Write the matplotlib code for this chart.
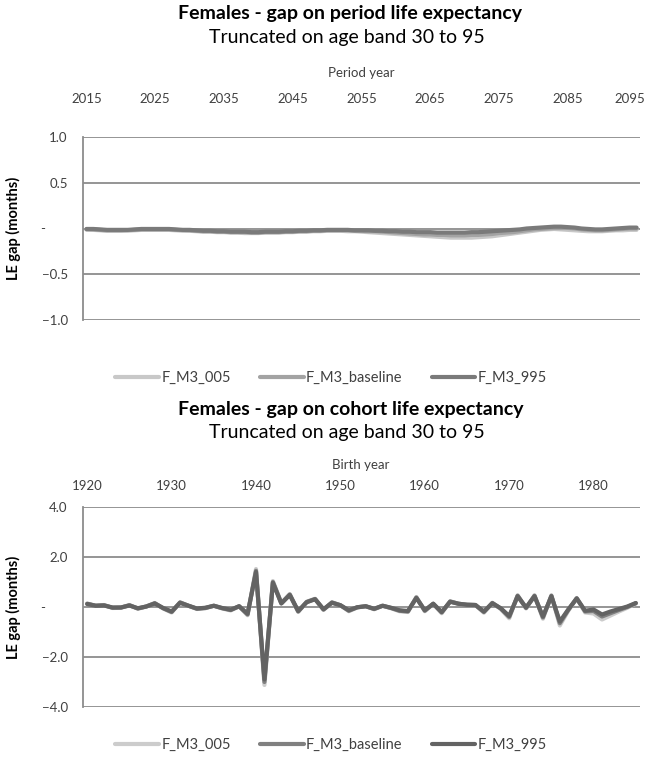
import numpy as np
import matplotlib.pyplot as plt
from matplotlib.transforms import ScaledTranslation

plt.rcParams['font.family'] = ['Lato', 'DejaVu Sans']

# period life expectancy gap (months), 2015..2095
period_years = list(range(2015, 2096))
period_005 = [-0.01, -0.015, -0.02, -0.025, -0.025, -0.025, -0.02, -0.02, -0.015, -0.015,
              -0.015, -0.015, -0.015, -0.02, -0.02, -0.025, -0.03, -0.035, -0.035, -0.04,
              -0.04, -0.045, -0.045, -0.05, -0.05, -0.05, -0.045, -0.045, -0.045, -0.04,
              -0.04, -0.035, -0.035, -0.03, -0.03, -0.025, -0.025, -0.025, -0.03, -0.03,
              -0.035, -0.04, -0.045, -0.05, -0.055, -0.06, -0.065, -0.07, -0.075, -0.08,
              -0.085, -0.09, -0.095, -0.1, -0.1, -0.1, -0.1, -0.095, -0.09, -0.085,
              -0.075, -0.065, -0.055, -0.045, -0.035, -0.025, -0.015, -0.01, -0.005, -0.01,
              -0.015, -0.02, -0.025, -0.03, -0.03, -0.03, -0.025, -0.02, -0.02, -0.015,
              -0.015]
period_baseline = [-0.01, -0.01, -0.015, -0.02, -0.02, -0.02, -0.02, -0.015, -0.01, -0.01,
                   -0.01, -0.01, -0.01, -0.015, -0.02, -0.02, -0.025, -0.03, -0.03, -0.035,
                   -0.035, -0.04, -0.04, -0.04, -0.045, -0.045, -0.04, -0.04, -0.04, -0.035,
                   -0.035, -0.03, -0.03, -0.025, -0.025, -0.02, -0.02, -0.02, -0.02, -0.025,
                   -0.025, -0.03, -0.03, -0.035, -0.04, -0.045, -0.05, -0.055, -0.06, -0.065,
                   -0.065, -0.07, -0.07, -0.075, -0.075, -0.075, -0.07, -0.07, -0.065, -0.06,
                   -0.05, -0.045, -0.04, -0.03, -0.02, -0.01, -0.005, 0.0, 0.005, 0.005,
                   0.005, 0.0, -0.01, -0.015, -0.02, -0.02, -0.015, -0.01, -0.005, 0.0,
                   0.0]
period_995 = [-0.005, -0.005, -0.01, -0.015, -0.015, -0.015, -0.015, -0.01, -0.005, -0.005,
              -0.005, -0.005, -0.005, -0.01, -0.015, -0.015, -0.02, -0.025, -0.025, -0.03,
              -0.03, -0.035, -0.035, -0.035, -0.04, -0.04, -0.035, -0.035, -0.035, -0.03,
              -0.03, -0.025, -0.025, -0.02, -0.02, -0.015, -0.015, -0.015, -0.015, -0.02,
              -0.02, -0.02, -0.025, -0.025, -0.03, -0.03, -0.035, -0.035, -0.04, -0.04,
              -0.04, -0.045, -0.045, -0.045, -0.045, -0.045, -0.04, -0.04, -0.035, -0.03,
              -0.025, -0.02, -0.015, -0.01, 0.0, 0.005, 0.01, 0.015, 0.02, 0.02,
              0.015, 0.01, 0.0, -0.005, -0.01, -0.01, -0.005, 0.0, 0.005, 0.01,
              0.01]

# cohort life expectancy gap (months), birth years 1920..1985
cohort_years = list(range(1920, 1986))
cohort_005 = [0.14, 0.05, 0.08, -0.04, -0.03, 0.08, -0.07, 0.02, 0.16, -0.06,
              -0.22, 0.19, 0.05, -0.08, -0.05, 0.05, -0.06, -0.14, 0.03, -0.33,
              1.52, -3.12, 1.04, 0.16, 0.52, -0.2, 0.21, 0.33, -0.12, 0.19,
              0.07, -0.17, -0.02, 0.03, -0.09, 0.05, -0.05, -0.17, -0.2, 0.4,
              -0.17, 0.13, -0.25, 0.23, 0.13, 0.09, 0.08, -0.23, 0.17, -0.08,
              -0.45, 0.47, -0.06, 0.47, -0.47, 0.47, -0.74, -0.15, 0.36, -0.22,
              -0.26, -0.5, -0.34, -0.18, -0.03, 0.14]
cohort_baseline = [0.13, 0.05, 0.07, -0.03, -0.02, 0.07, -0.06, 0.02, 0.15, -0.05,
                   -0.2, 0.18, 0.05, -0.07, -0.04, 0.05, -0.05, -0.12, 0.03, -0.3,
                   1.45, -3.0, 1.0, 0.15, 0.5, -0.18, 0.2, 0.32, -0.1, 0.18,
                   0.07, -0.15, -0.01, 0.03, -0.08, 0.05, -0.04, -0.15, -0.18, 0.38,
                   -0.15, 0.13, -0.22, 0.22, 0.13, 0.09, 0.08, -0.2, 0.16, -0.06,
                   -0.4, 0.45, -0.04, 0.45, -0.42, 0.45, -0.65, -0.12, 0.35, -0.18,
                   -0.16, -0.38, -0.25, -0.12, 0.0, 0.15]
cohort_995 = [0.12, 0.05, 0.06, -0.02, -0.02, 0.06, -0.05, 0.02, 0.14, -0.04,
              -0.18, 0.17, 0.05, -0.06, -0.03, 0.05, -0.04, -0.11, 0.03, -0.27,
              1.4, -2.9, 0.97, 0.14, 0.48, -0.16, 0.19, 0.31, -0.09, 0.17,
              0.07, -0.13, -0.01, 0.03, -0.07, 0.05, -0.03, -0.13, -0.16, 0.36,
              -0.13, 0.13, -0.2, 0.21, 0.13, 0.09, 0.08, -0.18, 0.15, -0.05,
              -0.36, 0.43, -0.02, 0.43, -0.38, 0.43, -0.58, -0.1, 0.34, -0.15,
              -0.1, -0.3, -0.18, -0.08, 0.02, 0.16]

series_names = ['F_M3_005', 'F_M3_baseline', 'F_M3_995']

fig = plt.figure(figsize=(6.49, 7.58), dpi=100)
grid_col = '#8c8c8c'
text_col = '#404040'


def style_axes(ax, xlim, xticks, yticks, ylabels):
    ax.set_xlim(*xlim)
    ax.set_ylim(yticks[-1], yticks[0])
    ax.xaxis.tick_top()
    ax.set_xticks(xticks)
    ax.set_xticklabels([str(t) for t in xticks])
    ax.set_yticks(yticks)
    ax.set_yticklabels(ylabels)
    ax.tick_params(axis='both', length=0, labelsize=9.5, colors=text_col)
    ax.tick_params(axis='y', pad=11)
    for s in ['top', 'right', 'bottom']:
        ax.spines[s].set_visible(False)
    ax.spines['left'].set_color(grid_col)
    ax.spines['left'].set_linewidth(1.3)
    ax.grid(axis='y', color=grid_col, linewidth=1.3)
    ax.set_axisbelow(True)
    ax.set_ylabel('LE gap (months)', fontsize=10.5, fontweight='bold', color='#000000')
    ax.yaxis.set_label_coords(-62 / 557, 0.5)
    # the zero label is a dash sitting further left, like the accounting format
    for lab, val in zip(ax.get_yticklabels(), yticks):
        if val == 0:
            lab.set_transform(lab.get_transform() + ScaledTranslation(-16 / 72, 0, fig.dpi_scale_trans))


def add_legend(ax, ycentre):
    fig.legend(*ax.get_legend_handles_labels(), loc='center', bbox_to_anchor=(0.51, ycentre),
               ncol=3, frameon=False, fontsize=10.5, handlelength=3.0, columnspacing=2.0,
               handletextpad=0.15, labelcolor=text_col)


# top chart: period
ax1 = fig.add_axes([83 / 649, 1 - 320 / 758, 557 / 649, 183 / 758])
cols1 = ['#c8c8c8', '#a3a3a3', '#7a7a7a']
for vals, c, n in zip([period_005, period_baseline, period_995], cols1, series_names):
    ax1.plot(period_years, vals, color=c, lw=3, label=n, solid_capstyle='round')
style_axes(ax1, (2014.5, 2095.5), list(range(2015, 2096, 10)),
           [1.0, 0.5, 0.0, -0.5, -1.0], ['1.0', '0.5', '-', '\u22120.5', '\u22121.0'])
ax1.tick_params(axis='x', pad=23)
last = ax1.get_xticklabels()[-1]
last.set_transform(last.get_transform() + ScaledTranslation(-5 / 72, 0, fig.dpi_scale_trans))
fig.text(0.54, 1 - 14 / 758, 'Females - gap on period life expectancy', ha='center', va='center',
         fontsize=14, fontweight='bold')
fig.text(0.535, 1 - 38 / 758, 'Truncated on age band 30 to 95', ha='center', va='center', fontsize=14)
fig.text(361 / 649, 1 - 73 / 758, 'Period year', ha='center', va='center', fontsize=9.5, color=text_col)
add_legend(ax1, 1 - 378 / 758)

# bottom chart: cohort
ax2 = fig.add_axes([83 / 649, 1 - 707 / 758, 557 / 649, 200 / 758])
cols2 = ['#cccccc', '#808080', '#636363']
for vals, c, n in zip([cohort_005, cohort_baseline, cohort_995], cols2, series_names):
    ax2.plot(cohort_years, vals, color=c, lw=3, label=n, solid_capstyle='round')
style_axes(ax2, (1919.5, 1985.5), list(range(1920, 1986, 10)),
           [4.0, 2.0, 0.0, -2.0, -4.0], ['4.0', '2.0', '-', '\u22122.0', '\u22124.0'])
ax2.tick_params(axis='x', pad=11)
fig.text(0.54, 1 - 409 / 758, 'Females - gap on cohort life expectancy', ha='center', va='center',
         fontsize=14, fontweight='bold')
fig.text(0.535, 1 - 432 / 758, 'Truncated on age band 30 to 95', ha='center', va='center', fontsize=14)
fig.text(361 / 649, 1 - 465 / 758, 'Birth year', ha='center', va='center', fontsize=9.5, color=text_col)
add_legend(ax2, 1 - 745 / 758)

fig.savefig('out.png', dpi=100)
